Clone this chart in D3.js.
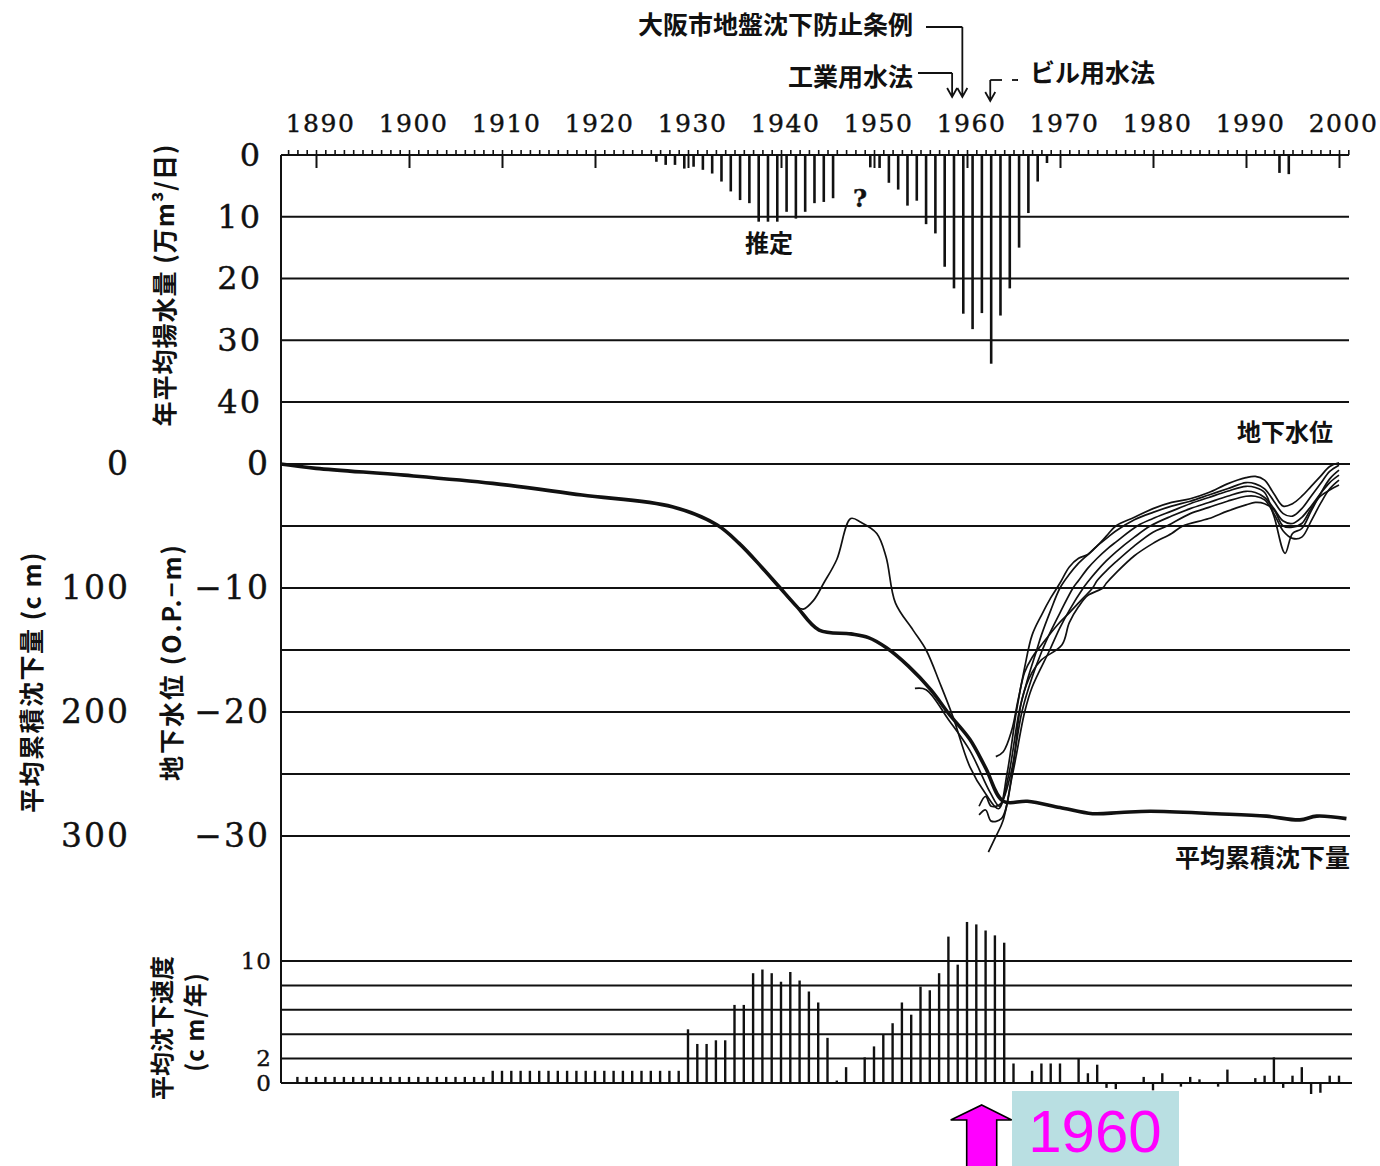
<!DOCTYPE html>
<html lang="ja">
<head>
<meta charset="UTF-8">
<title>大阪市の揚水量・地下水位・地盤沈下</title>
<script src="https://d3js.org/d3.v7.min.js"></script>
<style>
  body { margin: 0; background: #fff; }
  svg { display: block; background: #fff; }
  .num { font-family: "DejaVu Serif", serif; fill: #111; stroke: #111; stroke-width: 0.4; }
  .jp { font-family: "Noto Sans CJK JP", sans-serif; font-weight: 700; fill: #111; }
  .grid { stroke: #111; stroke-width: 2; }
</style>
</head>
<body>
<svg width="1380" height="1166"></svg>
<script>
// ---- data ----
const decadeLabels = [1890, 1900, 1910, 1920, 1930, 1940, 1950, 1960, 1970, 1980, 1990, 2000];

// 年平均揚水量 (万m3/日)
const pumpYears  = [1926, 1927, 1928, 1929, 1930, 1931, 1932, 1933, 1934, 1935, 1936, 1937, 1938, 1939, 1940, 1941, 1942, 1943, 1944, 1945,
                    1949, 1950, 1951, 1952, 1953, 1954, 1955, 1956, 1957, 1958, 1959, 1960, 1961, 1962, 1963, 1964, 1965, 1966, 1967, 1968,
                    1993, 1994];
const pumpValues = [1.1, 1.6, 1.6, 2.2, 1.9, 2.4, 3.0, 4.3, 5.9, 7.3, 7.8, 10.8, 10.8, 10.8, 9.2, 10.3, 9.2, 7.8, 7.6, 7.0,
                    2.0, 2.1, 4.5, 5.6, 8.2, 7.4, 11.2, 12.7, 18.1, 21.6, 25.7, 28.2, 25.6, 33.8, 26.0, 21.6, 15.0, 9.4, 4.3, 1.3,
                    2.9, 3.1];

// 平均沈下速度 (cm/年)
const rateYears  = [1888, 1889, 1890, 1891, 1892, 1893, 1894, 1895, 1896, 1897, 1898, 1899, 1900, 1901, 1902, 1903, 1904, 1905, 1906, 1907, 1908,
                    1909, 1910, 1911, 1912, 1913, 1914, 1915, 1916, 1917, 1918, 1919, 1920, 1921, 1922, 1923, 1924, 1925, 1926, 1927, 1928, 1929,
                    1930, 1931, 1932, 1933, 1934, 1935, 1936, 1937, 1938, 1939, 1940, 1941, 1942, 1943, 1944, 1945, 1946, 1947,
                    1949, 1950, 1951, 1952, 1953, 1954, 1955, 1956, 1957, 1958, 1959, 1960, 1961, 1962, 1963, 1964, 1965,
                    1967, 1968, 1969, 1970, 1972, 1973, 1974, 1975, 1976, 1979, 1980, 1981, 1983, 1984, 1985, 1987, 1988,
                    1991, 1992, 1993, 1994, 1995, 1996, 1997, 1998, 1999, 2000];
const rateValues = [0.5, 0.5, 0.5, 0.5, 0.5, 0.5, 0.5, 0.5, 0.5, 0.5, 0.5, 0.5, 0.5, 0.5, 0.5, 0.5, 0.5, 0.5, 0.5, 0.5, 0.5,
                    1.0, 1.0, 1.0, 1.0, 1.0, 1.0, 1.0, 1.0, 1.0, 1.0, 1.0, 1.0, 1.0, 1.0, 1.0, 1.0, 1.0, 1.0, 1.0, 1.0, 1.0,
                    4.4, 3.2, 3.2, 3.5, 3.5, 6.4, 6.4, 9.0, 9.3, 9.0, 8.3, 9.1, 8.4, 7.5, 6.6, 3.7, 0.2, 1.3,
                    2.1, 3.0, 4.0, 4.9, 6.6, 5.6, 7.9, 7.6, 9.0, 12.0, 9.7, 13.2, 13.0, 12.5, 12.1, 11.5, 1.6,
                    1.0, 1.6, 1.6, 1.6, 2.0, 0.8, 1.5, -0.4, -0.5, 0.5, -0.6, 0.8, -0.3, 0.5, 0.3, -0.3, 1.1,
                    0.4, 0.6, 2.1, -0.4, 0.6, 1.3, -0.9, -0.8, 0.6, 0.6];

// 平均累積沈下量 (cm)  [year, cm]
const subsidence = [[1886.2, 0], [1890, 3.5], [1899.5, 9], [1909, 15.6], [1918.6, 25], [1928.3, 34.4], [1933.1, 49],
                    [1935.5, 64], [1937.9, 83], [1939.8, 99], [1941.7, 115], [1944.1, 134], [1947.5, 137], [1949.4, 140],
                    [1951.3, 148], [1953.7, 163], [1956.1, 182], [1958, 201], [1960.3, 222], [1962, 245], [1963.9, 272],
                    [1966.5, 272], [1970, 277], [1973.5, 282], [1976.5, 281], [1979.7, 280], [1986.8, 282], [1992.2, 284],
                    [1995.8, 287], [1997.6, 284], [2000.8, 286]];

// 地下水位 (O.P. m), several wells  [year, m]
const wellA = [[1935.5, -6.4], [1937.9, -8.3], [1939.8, -9.9], [1941.7, -11.5], [1942.4, -11.7], [1943.5, -11.0], [1944.6, -9.6],
               [1946.0, -7.7], [1947.5, -4.4], [1948.6, -4.7], [1950.3, -5.6], [1951.3, -7.5], [1952.3, -11.2], [1954.2, -13.4],
               [1955.6, -15.0], [1957.1, -17.7], [1958.5, -20.4], [1960.3, -24.4], [1962.0, -26.6], [1963.4, -27.8], [1964.3, -25.0],
               [1965.3, -20.0], [1966.2, -16.4], [1967, -13.8], [1968, -12.2], [1969, -10.8], [1970, -9.6], [1971, -8.3], [1972, -7.6],
               [1973, -7.3], [1974, -6.6], [1975, -5.8], [1976, -5.0], [1978, -4.3], [1980, -3.6], [1982, -3.1], [1984, -2.8],
               [1986, -2.3], [1988, -1.6], [1990, -1.1], [1991, -1.0], [1992, -1.3], [1993, -2.4], [1994, -3.4], [1995, -3.2],
               [1996, -2.6], [1997, -1.8], [1998, -1.0], [1999, -0.2], [2000, 0.1]];
const wellB = [[1954.4, -18.1], [1955.6, -18.2], [1958.0, -20.6], [1960.3, -23.1], [1962.5, -26.5], [1963.5, -27.6], [1964.5, -25.0],
               [1965.6, -20.0], [1966.5, -17.4], [1967.5, -15.0], [1968, -13.8], [1969, -11.8], [1970, -10.0], [1971, -8.9], [1972, -8.0],
               [1973, -7.3], [1974, -6.6], [1975, -6.0], [1976, -5.4], [1978, -4.5], [1980, -3.9], [1982, -3.4], [1984, -3.0],
               [1986, -2.5], [1988, -2.0], [1990, -1.5], [1991, -1.6], [1992, -2.0], [1993, -3.0], [1994, -4.0], [1995, -4.2],
               [1996, -3.6], [1997, -2.6], [1998, -1.6], [1999, -0.6], [2000, -0.1]];
const wellC = [[1961.3, -27.6], [1962.0, -26.8], [1962.6, -27.6], [1963.6, -27.4], [1964.7, -25.0], [1965.9, -20.0], [1967, -17.2],
               [1968.1, -15.0], [1969, -13.5], [1970, -12.0], [1971.4, -10.0], [1972, -9.4], [1973, -8.4], [1974, -7.6], [1975, -6.9],
               [1976, -6.3], [1978.3, -5.0], [1980, -4.4], [1982, -3.8], [1984, -3.2], [1986, -2.7], [1988, -2.2], [1990, -1.8],
               [1991, -1.9], [1992, -2.3], [1993, -4.2], [1994.2, -7.2], [1995, -5.6], [1996, -5.2], [1997, -3.8], [1998, -2.4],
               [1999, -1.2], [2000, -0.5]];
const wellD = [[1961.3, -28.3], [1962.0, -27.9], [1962.6, -28.8], [1963.7, -28.6], [1964.9, -25.0], [1966.2, -20.0], [1967, -18.0],
               [1968.9, -15.0], [1970, -13.2], [1971, -11.8], [1972.5, -10.0], [1973, -9.5], [1974, -8.6], [1975, -7.8], [1976, -7.1],
               [1978, -5.9], [1979.7, -5.0], [1982, -4.2], [1984, -3.6], [1986, -3.1], [1988, -2.6], [1990, -2.2], [1991, -2.3],
               [1992, -2.7], [1993, -3.6], [1994, -4.6], [1995, -4.8], [1996, -4.3], [1997, -3.4], [1998, -2.4], [1999, -1.5],
               [2000, -0.9]];
const wellE = [[1963.1, -23.6], [1963.9, -23.2], [1964.8, -21.5], [1965.5, -19.0], [1966.2, -16.8], [1967, -15.6], [1968, -14.6],
               [1969.7, -13.0], [1971, -12.0], [1972, -11.2], [1973.5, -10.0], [1974, -9.4], [1975, -8.6], [1976, -7.9], [1978, -6.6],
               [1980, -5.5], [1981.5, -5.0], [1984, -4.0], [1986, -3.5], [1988, -3.0], [1990, -2.6], [1991, -2.6], [1992, -2.9],
               [1993, -4.0], [1994, -5.4], [1995, -6.0], [1996, -5.9], [1997, -4.6], [1998, -3.2], [1999, -2.0], [2000, -1.3]];
const wellF = [[1962.3, -31.3], [1963.0, -30.2], [1963.9, -28.7], [1964.9, -24.7], [1965.9, -19.0], [1967, -16.8], [1968, -15.8],
               [1970.2, -14.6], [1971, -12.8], [1972, -11.5], [1973, -10.6], [1974.6, -10.0], [1975, -9.6], [1976, -8.8], [1978, -7.4],
               [1980, -6.4], [1982, -5.6], [1983.2, -5.0], [1986, -4.4], [1988, -3.8], [1990, -3.3], [1991, -3.1], [1992, -3.2],
               [1993, -3.7], [1994, -5.0], [1995, -5.1], [1996, -4.8], [1997, -3.6], [1998, -2.6], [1999, -2.1], [2000, -1.7]];
const wells = [wellA, wellB, wellC, wellD, wellE, wellF];

// law / ordinance arrows: [label, year pointed at]
const laws = [["大阪市地盤沈下防止条例", 1959.5], ["工業用水法", 1958.4], ["ビル用水法", 1962.5]];

// ---- scales ----
const svg = d3.select("svg");
const left = 281, right = 1349;

const x = d3.scaleLinear().domain([1890, 2000]).range([316, 1339]);
const yPump = d3.scaleLinear().domain([0, 40]).range([155, 402]);
const yGw   = d3.scaleLinear().domain([0, -30]).range([464, 836]);
const ySub  = d3.scaleLinear().domain([0, 300]).range([464, 836]);
const yRate = d3.scaleLinear().domain([0, 10]).range([1083, 961]);

// ---- grid lines ----
const gridG = svg.append("g");
[10, 20, 30, 40].forEach(v => gridG.append("line").attr("class", "grid")
    .attr("x1", left).attr("x2", right).attr("y1", yPump(v)).attr("y2", yPump(v)));
[0, -5, -10, -15, -20, -25, -30].forEach(v => gridG.append("line").attr("class", "grid")
    .attr("x1", left).attr("x2", right + 1).attr("y1", yGw(v)).attr("y2", yGw(v)));
[0, 2, 4, 6, 8, 10].forEach(v => gridG.append("line").attr("class", "grid")
    .attr("x1", left).attr("x2", right + 3).attr("y1", yRate(v)).attr("y2", yRate(v)));

// frame: top axis line and left vertical line
svg.append("line").attr("class", "grid").attr("x1", left).attr("x2", right).attr("y1", yPump(0)).attr("y2", yPump(0));
svg.append("line").attr("class", "grid").attr("x1", left).attr("x2", left).attr("y1", yPump(0)).attr("y2", yRate(0));

// ---- top year axis ----
const yearTicks = d3.range(1887, 2002);
const minor = svg.append("g").attr("transform", `translate(0,${yPump(0)})`)
    .call(d3.axisTop(x).tickValues(yearTicks).tickSize(5).tickFormat(""));
minor.select(".domain").remove();
minor.selectAll("line").attr("stroke", "#111").attr("stroke-width", 1.6);

const major = svg.append("g").attr("transform", `translate(0,${yPump(0)})`)
    .call(d3.axisBottom(x).tickValues(decadeLabels).tickSize(13).tickFormat(""));
major.select(".domain").remove();
major.selectAll("line").attr("stroke", "#111").attr("stroke-width", 2);

const yearAxis = svg.append("g").attr("transform", `translate(0,${yPump(0)})`)
    .call(d3.axisTop(x).tickValues(decadeLabels).tickSize(0).tickPadding(23).tickFormat(d3.format("d")));
yearAxis.select(".domain").remove();
yearAxis.selectAll("text").attr("class", "num").attr("font-size", 25).attr("dx", 4).attr("letter-spacing", 1.5);

// ---- left value axes ----
function leftAxis(scale, values, pad, size, fmt, spacing) {
  const g = svg.append("g").attr("transform", `translate(${left},0)`)
      .call(d3.axisLeft(scale).tickValues(values).tickSize(0).tickPadding(pad).tickFormat(fmt));
  g.select(".domain").remove();
  g.selectAll("text").attr("class", "num").attr("font-size", size).attr("letter-spacing", spacing);
  return g;
}
leftAxis(yPump, [0, 10, 20, 30, 40], 19, 32, d3.format("d"), 2);
leftAxis(yGw, [0, -10, -20, -30], 11, 33, d => d === 0 ? "0" : "−" + Math.abs(d), 2);
leftAxis(ySub, [0, 100, 200, 300], 151, 33, d3.format("d"), 2);
leftAxis(yRate, [0, 2, 10], 9, 23, d3.format("d"), 1);

// ---- pumping bars (hang from the top axis) ----
svg.append("g").selectAll("line")
  .data(pumpYears.map((yr, i) => [yr, pumpValues[i]]))
  .join("line")
    .attr("x1", d => x(d[0] + 0.6)).attr("x2", d => x(d[0] + 0.6))
    .attr("y1", yPump(0)).attr("y2", d => yPump(d[1]))
    .attr("stroke", "#111").attr("stroke-width", 2.6);

// ---- subsidence rate bars ----
svg.append("g").selectAll("line")
  .data(rateYears.map((yr, i) => [yr, rateValues[i]]))
  .join("line")
    .attr("x1", d => x(d[0])).attr("x2", d => x(d[0]))
    .attr("y1", yRate(0)).attr("y2", d => yRate(d[1]))
    .attr("stroke", "#111").attr("stroke-width", 2.4);

// ---- groundwater lines ----
const gwLine = d3.line().x(d => x(d[0])).y(d => yGw(d[1])).curve(d3.curveCatmullRom.alpha(0.5));
svg.append("g").selectAll("path")
  .data(wells)
  .join("path")
    .attr("d", gwLine)
    .attr("fill", "none").attr("stroke", "#111").attr("stroke-width", 1.7);

// ---- cumulative subsidence (thick) ----
const subLine = d3.line().x(d => x(d[0])).y(d => ySub(d[1])).curve(d3.curveCatmullRom.alpha(0.5));
svg.append("path").datum(subsidence)
    .attr("d", subLine)
    .attr("fill", "none").attr("stroke", "#111").attr("stroke-width", 3.6);

// ---- axis titles ----
function vtext(cx, cy, txt, size, spacing) {
  svg.append("text").attr("class", "jp")
    .attr("transform", `translate(${cx},${cy}) rotate(-90)`)
    .attr("text-anchor", "middle").attr("dominant-baseline", "central")
    .attr("font-size", size).attr("letter-spacing", spacing || 0)
    .text(txt);
}
vtext(163, 285, "年平均揚水量 (万m³/日)", 25, 1);
vtext(170, 662, "地下水位 (O.P.−m)", 25, 2);
vtext(30, 682, "平均累積沈下量 (c m)", 25, 1.5);
vtext(160, 1028, "平均沈下速度", 24, 0);
vtext(193, 1022, "(c m/年)", 24, 1);

// ---- in-plot labels ----
svg.append("text").attr("class", "jp").attr("x", 745).attr("y", 252).attr("font-size", 24).text("推定");
svg.append("text").attr("class", "num").attr("x", 853).attr("y", 207).attr("font-size", 24).attr("font-weight", "bold").text("?");
svg.append("text").attr("class", "jp").attr("x", 1237).attr("y", 441).attr("font-size", 24).text("地下水位");
svg.append("text").attr("class", "jp").attr("x", 1175).attr("y", 867).attr("font-size", 25).text("平均累積沈下量");

// ---- law annotations with arrows ----
const ann = svg.append("g").attr("fill", "none").attr("stroke", "#111").attr("stroke-width", 1.8);
function arrowDown(px, yTop, yTip) {
  ann.append("path").attr("d", `M${px},${yTop}V${yTip}M${px - 5},${yTip - 9}L${px},${yTip}L${px + 5},${yTip - 9}`);
}
// 大阪市地盤沈下防止条例
svg.append("text").attr("class", "jp").attr("x", 913).attr("y", 34).attr("text-anchor", "end")
   .attr("font-size", 25).text(laws[0][0]);
ann.append("path").attr("d", `M926,27H${x(laws[0][1])}`);
arrowDown(x(laws[0][1]), 27, 97);
// 工業用水法
svg.append("text").attr("class", "jp").attr("x", 913).attr("y", 86).attr("text-anchor", "end")
   .attr("font-size", 25).text(laws[1][0]);
ann.append("path").attr("d", `M918,73H${x(laws[1][1])}`);
arrowDown(x(laws[1][1]), 73, 97);
// ビル用水法
svg.append("text").attr("class", "jp").attr("x", 1030).attr("y", 82)
   .attr("font-size", 25).text(laws[2][0]);
ann.append("path").attr("d", `M1002,80H${x(laws[2][1])}`);
ann.append("path").attr("d", "M1012,80H1018");
arrowDown(x(laws[2][1]), 80, 101);

// ---- 1960 highlight ----
svg.append("path")
   .attr("d", "M981.7,1105L1011.7,1120H996.7V1170H966.7V1120H950.7Z")
   .attr("fill", "#ff00ff").attr("stroke", "#000").attr("stroke-width", 1.6);
svg.append("rect").attr("x", 1012).attr("y", 1091).attr("width", 167).attr("height", 76).attr("fill", "#b9dfe2");
svg.append("text").attr("x", 1095).attr("y", 1152).attr("text-anchor", "middle")
   .attr("font-family", "Liberation Sans, Arial, sans-serif").attr("font-size", 60).attr("fill", "#ff00ff")
   .text("1960");
</script>
</body>
</html>
